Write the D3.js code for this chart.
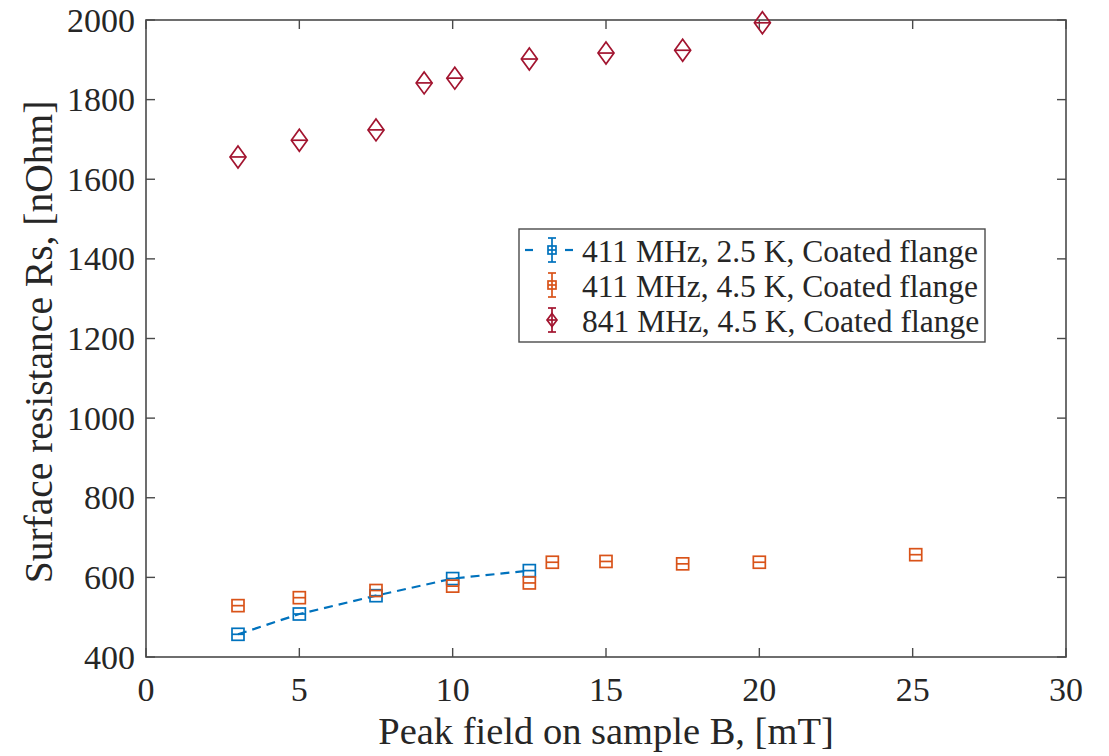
<!DOCTYPE html>
<html>
<head>
<meta charset="utf-8">
<script src="https://cdn.jsdelivr.net/npm/d3@7"></script>
<style>
  html, body { margin: 0; padding: 0; background: #fff; }
  svg { display: block; }
  text { font-family: "Liberation Serif", "Times New Roman", serif; fill: #262626; }
</style>
</head>
<body>
<svg id="chart" width="1109" height="756"></svg>
<script>
// ---- data ----
const xTicks = [0, 5, 10, 15, 20, 25, 30];
const yTicks = [400, 600, 800, 1000, 1200, 1400, 1600, 1800, 2000];

const s1Label = "411 MHz, 2.5 K, Coated flange";
const s1X = [3, 5, 7.5, 10, 12.5];
const s1Y = [457, 508, 554, 597, 617];

const s2Label = "411 MHz, 4.5 K, Coated flange";
const s2X = [3, 5, 7.5, 10, 12.5, 13.25, 15, 17.5, 20, 25.1];
const s2Y = [529, 549, 567, 578, 586, 638, 640, 634, 638, 657];

const s3Label = "841 MHz, 4.5 K, Coated flange";
const s3X = [3, 5, 7.5, 9.07, 10.07, 12.5, 15, 17.5, 20.1];
const s3Y = [1656, 1698, 1724, 1842, 1854, 1902, 1917, 1924, 1993];

const xLabel = "Peak field on sample B, [mT]";
const yLabel = "Surface resistance Rs, [nOhm]";

// ---- layout ----
const L = 146, R = 1066, T = 20, B = 657;
const blue = "#0072BD", orange = "#D95319", red = "#A2142F";
const axisColor = "#4a4a4a";

const svg = d3.select("#chart");
const x = d3.scaleLinear().domain([0, 30]).range([L, R]);
const y = d3.scaleLinear().domain([400, 2000]).range([B, T]);

// ticks (inward, all four sides)
const tickLen = 9;
const axG = svg.append("g");
xTicks.forEach(t => {
  axG.append("line").attr("x1", x(t)).attr("x2", x(t)).attr("y1", B).attr("y2", B - tickLen)
    .attr("stroke", axisColor).attr("stroke-width", 1.4);
  axG.append("line").attr("x1", x(t)).attr("x2", x(t)).attr("y1", T).attr("y2", T + tickLen)
    .attr("stroke", axisColor).attr("stroke-width", 1.4);
  axG.append("text").attr("x", x(t)).attr("y", 701).attr("text-anchor", "middle")
    .attr("font-size", 34).text(t);
});
yTicks.forEach(t => {
  axG.append("line").attr("x1", L).attr("x2", L + tickLen).attr("y1", y(t)).attr("y2", y(t))
    .attr("stroke", axisColor).attr("stroke-width", 1.4);
  axG.append("line").attr("x1", R).attr("x2", R - tickLen).attr("y1", y(t)).attr("y2", y(t))
    .attr("stroke", axisColor).attr("stroke-width", 1.4);
  axG.append("text").attr("x", 135).attr("y", y(t) + 11.5).attr("text-anchor", "end")
    .attr("font-size", 34).text(t);
});
axG.append("rect").attr("x", L).attr("y", T).attr("width", R - L).attr("height", B - T)
  .attr("fill", "none").attr("stroke", axisColor).attr("stroke-width", 1.6);

// axis labels
svg.append("text").attr("x", (L + R) / 2).attr("y", 744).attr("text-anchor", "middle")
  .attr("font-size", 38.5).text(xLabel);
svg.append("text").attr("transform", `translate(52,342) rotate(-90)`)
  .attr("text-anchor", "middle").attr("font-size", 39.5).text(yLabel);

// markers
function squareMarker(g, cx, cy, size, color) {
  g.append("rect").attr("x", cx - size / 2).attr("y", cy - size / 2)
    .attr("width", size).attr("height", size)
    .attr("fill", "none").attr("stroke", color).attr("stroke-width", 1.7);
  g.append("line").attr("x1", cx - size / 2).attr("x2", cx + size / 2)
    .attr("y1", cy).attr("y2", cy).attr("stroke", color).attr("stroke-width", 1.7);
}
function diamondMarker(g, cx, cy, w, h, color) {
  g.append("path")
    .attr("d", `M${cx},${cy - h / 2}L${cx + w / 2},${cy}L${cx},${cy + h / 2}L${cx - w / 2},${cy}Z`)
    .attr("fill", "none").attr("stroke", color).attr("stroke-width", 1.7);
  g.append("line").attr("x1", cx - w / 2).attr("x2", cx + w / 2)
    .attr("y1", cy).attr("y2", cy).attr("stroke", color).attr("stroke-width", 1.7);
}

const plotG = svg.append("g");

// series 1 dashed line
const s1 = s1X.map((v, i) => [v, s1Y[i]]);
plotG.append("path").datum(s1)
  .attr("d", d3.line().x(d => x(d[0])).y(d => y(d[1])))
  .attr("fill", "none").attr("stroke", blue).attr("stroke-width", 2.2)
  .attr("stroke-dasharray", "9,6");
s1.forEach(d => squareMarker(plotG, x(d[0]), y(d[1]), 12, blue));

s2X.forEach((v, i) => squareMarker(plotG, x(v), y(s2Y[i]), 12, orange));
s3X.forEach((v, i) => diamondMarker(plotG, x(v), y(s3Y[i]), 16, 22, red));

// legend
const lg = svg.append("g");
lg.append("rect").attr("x", 519).attr("y", 229).attr("width", 466).attr("height", 113)
  .attr("fill", "#fff").attr("stroke", axisColor).attr("stroke-width", 1.4);
const rows = [
  { label: s1Label, color: blue, type: "sq", line: true, cy: 250 },
  { label: s2Label, color: orange, type: "sq", line: false, cy: 285 },
  { label: s3Label, color: red, type: "dm", line: false, cy: 320 }
];
const icx = 552;
rows.forEach(r => {
  if (r.line) {
    lg.append("line").attr("x1", 525).attr("x2", 533).attr("y1", r.cy).attr("y2", r.cy)
      .attr("stroke", r.color).attr("stroke-width", 2.2);
    lg.append("line").attr("x1", 565).attr("x2", 573).attr("y1", r.cy).attr("y2", r.cy)
      .attr("stroke", r.color).attr("stroke-width", 2.2);
  }
  // error bar icon
  lg.append("line").attr("x1", icx).attr("x2", icx).attr("y1", r.cy - 12).attr("y2", r.cy + 12)
    .attr("stroke", r.color).attr("stroke-width", 1.7);
  [-12, 12].forEach(o => lg.append("line").attr("x1", icx - 4).attr("x2", icx + 4)
    .attr("y1", r.cy + o).attr("y2", r.cy + o).attr("stroke", r.color).attr("stroke-width", 1.7));
  if (r.type === "sq") squareMarker(lg, icx, r.cy, 8, r.color);
  else diamondMarker(lg, icx, r.cy, 10, 13, r.color);
  lg.append("text").attr("x", 582).attr("y", r.cy + 12).attr("font-size", 31.5).text(r.label);
});
</script>
</body>
</html>
